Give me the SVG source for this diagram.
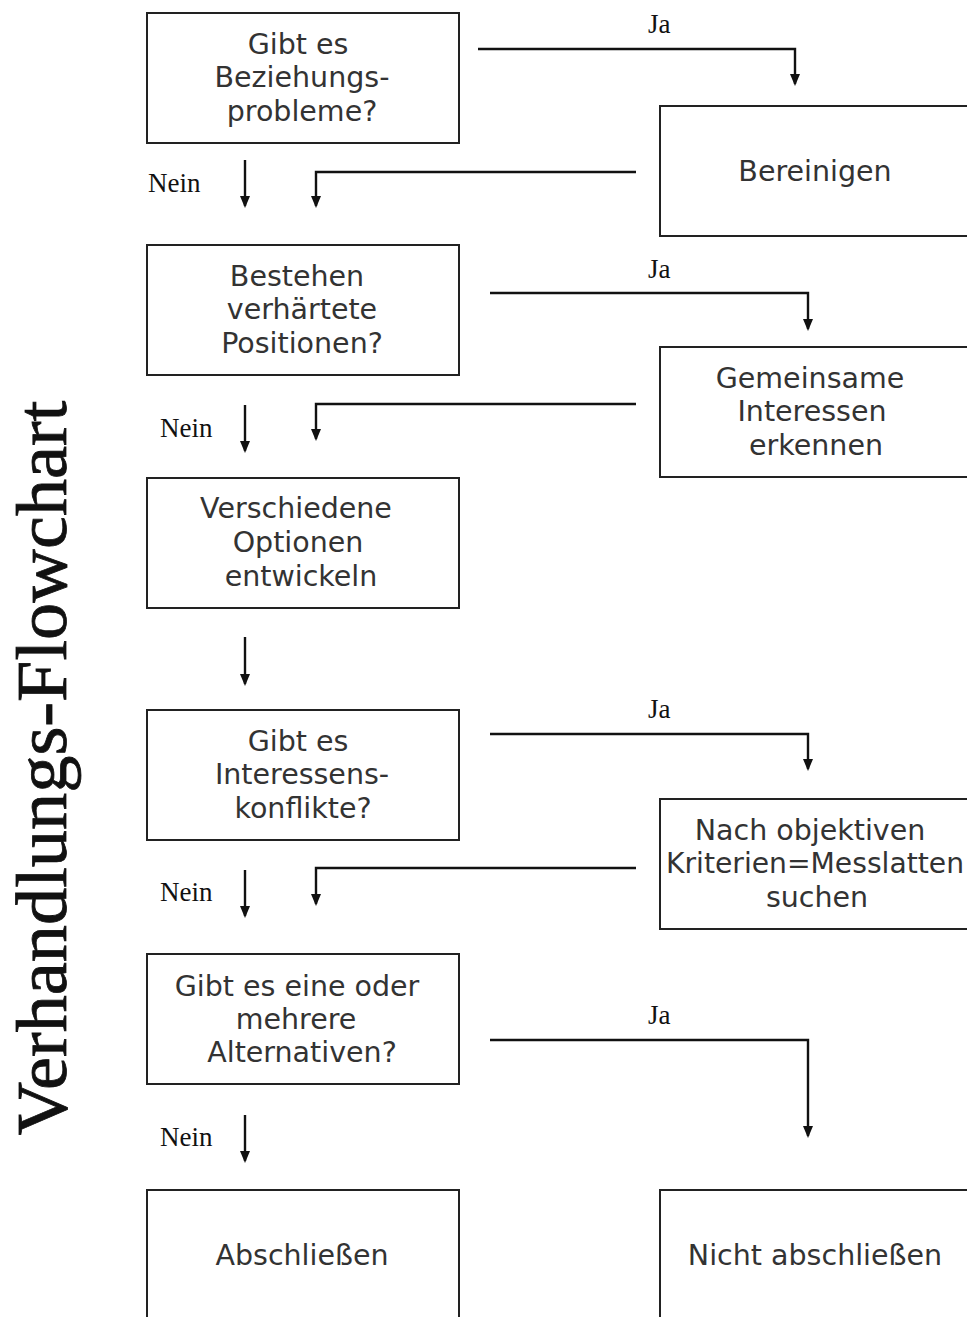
<svg xmlns="http://www.w3.org/2000/svg" width="967" height="1317" viewBox="0 0 967 1317">
<style>
.box{fill:#fff;stroke:#222;stroke-width:2}
.t{font-family:"DejaVu Sans",Verdana,sans-serif;font-size:28.5px;fill:#333;text-anchor:middle}
.l{font-family:"Liberation Serif","Times New Roman",serif;font-size:27px;fill:#111}
.c{fill:none;stroke:#111;stroke-width:2.4}
</style>
<defs>
<marker id="ah" viewBox="0 0 12 12" refX="10" refY="6" markerWidth="12" markerHeight="12" markerUnits="userSpaceOnUse" orient="auto">
<path d="M0,1 L12,6 L0,11 Z" fill="#111"/>
</marker>
</defs>
<rect width="967" height="1317" fill="#fff"/>
<text x="0" y="0" transform="translate(66,768) rotate(-90)" font-family="Liberation Serif,'Times New Roman',serif" font-size="72" fill="#111" stroke="#111" stroke-width="0.8" text-anchor="middle" textLength="735" lengthAdjust="spacingAndGlyphs">Verhandlungs-Flowchart</text>
<g id="connectors">
<path class="c" d="M478,49 H795 V84" marker-end="url(#ah)"/>
<text class="l" x="648" y="33">Ja</text>
<path class="c" d="M636,172 H316 V206" marker-end="url(#ah)"/>
<path class="c" d="M245,160 V206" marker-end="url(#ah)"/>
<text class="l" x="148" y="192">Nein</text>
<path class="c" d="M490,293 H808 V329" marker-end="url(#ah)"/>
<text class="l" x="648" y="278">Ja</text>
<path class="c" d="M636,404 H316 V439" marker-end="url(#ah)"/>
<path class="c" d="M245,405 V451" marker-end="url(#ah)"/>
<text class="l" x="160" y="437">Nein</text>
<path class="c" d="M245,637 V684" marker-end="url(#ah)"/>
<path class="c" d="M490,734 H808 V769" marker-end="url(#ah)"/>
<text class="l" x="648" y="718">Ja</text>
<path class="c" d="M636,868 H316 V904" marker-end="url(#ah)"/>
<path class="c" d="M245,870 V916" marker-end="url(#ah)"/>
<text class="l" x="160" y="901">Nein</text>
<path class="c" d="M490,1040 H808 V1136" marker-end="url(#ah)"/>
<text class="l" x="648" y="1024">Ja</text>
<path class="c" d="M245,1115 V1161" marker-end="url(#ah)"/>
<text class="l" x="160" y="1146">Nein</text>
</g>
<g id="n1"><rect class="box" x="147" y="13" width="312" height="130"/>
<text class="t" x="298" y="54">Gibt es</text><text class="t" x="302" y="87">Beziehungs-</text><text class="t" x="302" y="121">probleme?</text></g>
<g id="n2"><rect class="box" x="660" y="106" width="315" height="130"/>
<text class="t" x="815" y="181">Bereinigen</text></g>
<g id="n3"><rect class="box" x="147" y="245" width="312" height="130"/>
<text class="t" x="297" y="286">Bestehen</text><text class="t" x="302" y="319">verhärtete</text><text class="t" x="302" y="353">Positionen?</text></g>
<g id="n4"><rect class="box" x="660" y="347" width="315" height="130"/>
<text class="t" x="810" y="388">Gemeinsame</text><text class="t" x="812" y="421">Interessen</text><text class="t" x="816" y="455">erkennen</text></g>
<g id="n5"><rect class="box" x="147" y="478" width="312" height="130"/>
<text class="t" x="296" y="518">Verschiedene</text><text class="t" x="298" y="552">Optionen</text><text class="t" x="301" y="586">entwickeln</text></g>
<g id="n6"><rect class="box" x="147" y="710" width="312" height="130"/>
<text class="t" x="298" y="751">Gibt es</text><text class="t" x="302" y="784">Interessens-</text><text class="t" x="303" y="818">konflikte?</text></g>
<g id="n7"><rect class="box" x="660" y="799" width="315" height="130"/>
<text class="t" x="810" y="840">Nach objektiven</text><text class="t" x="815" y="873" textLength="298" lengthAdjust="spacingAndGlyphs">Kriterien=Messlatten</text><text class="t" x="817" y="907">suchen</text></g>
<g id="n8"><rect class="box" x="147" y="954" width="312" height="130"/>
<text class="t" x="297" y="996">Gibt es eine oder</text><text class="t" x="296" y="1029">mehrere</text><text class="t" x="302" y="1062">Alternativen?</text></g>
<g id="n9"><rect class="box" x="147" y="1190" width="312" height="140"/>
<text class="t" x="302" y="1265">Abschließen</text></g>
<g id="n10"><rect class="box" x="660" y="1190" width="315" height="140"/>
<text class="t" x="815" y="1265">Nicht abschließen</text></g>
</svg>
